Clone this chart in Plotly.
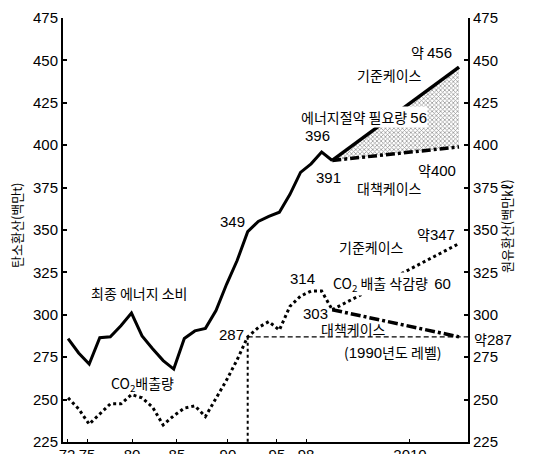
import plotly.graph_objects as go

# ---------------- data ----------------
years_actual = list(range(1973, 1999))
energy_actual = [286, 277.5, 271, 286.5, 287, 293.5, 301, 287.5, 280, 273, 268,
                 286, 290.5, 292, 302.5, 318, 332, 349, 355, 358, 360.5, 371,
                 384, 389, 396, 391]
co2_actual = [251, 244.5, 235.5, 241.5, 247.5, 247.5, 253, 251, 245.5, 235, 240.5,
              245, 246.3, 240, 251, 261.5, 273.5, 287, 292.5, 296, 291, 305,
              311, 314, 314, 303]

proj_years = [1998, 2010]
energy_base = [391, 446]      # 기준케이스 (약456)
energy_target = [391, 399]    # 대책케이스 (약400)
co2_base = [303, 342]         # 기준케이스 (약347)
co2_target = [303, 287]       # 대책케이스 (약287)
level_1990_year = 1990
level_1990_value = 287

# tick labels as printed on the reference's time axis, and where they sit
x_tick_text = ["72", "75", "80", "85", "90", "95", "98", "2010"]
x_tick_pos = [1972.9, 1974.8, 1979.05, 1983.3, 1988.13, 1992.77, 1995.52, 2005.36]
y_ticks = [225, 250, 275, 300, 325, 350, 375, 400, 425, 450, 475]

X_RANGE = [1972.52, 2010.85]
Y_RANGE = [225, 475]

NUM_FONT = "Liberation Sans"
NUM_SIZE = 15
KR_FONT = "Noto Sans CJK KR"

fig = go.Figure()

# energy (right axis, 원유환산)
fig.add_trace(go.Scatter(x=years_actual, y=energy_actual, mode="lines", yaxis="y2",
                         line=dict(color="black", width=3), showlegend=False))
fig.add_trace(go.Scatter(x=proj_years, y=energy_target, mode="lines", yaxis="y2",
                         line=dict(color="black", width=3.5, dash="9px,3px,3px,3px"),
                         showlegend=False))
fig.add_trace(go.Scatter(x=proj_years, y=energy_base, mode="lines", yaxis="y2",
                         line=dict(color="black", width=3.5), fill="tonexty",
                         fillcolor="rgba(0,0,0,0)",
                         fillpattern=dict(shape="x", size=3, solidity=0.45,
                                          fgcolor="#333333", bgcolor="white"),
                         showlegend=False))

# CO2 (left axis, 탄소환산)
fig.add_trace(go.Scatter(x=years_actual, y=co2_actual, mode="lines",
                         line=dict(color="black", width=3, dash="3px,3px"),
                         showlegend=False))
fig.add_trace(go.Scatter(x=proj_years, y=co2_base, mode="lines",
                         line=dict(color="black", width=3, dash="3px,3px"),
                         showlegend=False))
fig.add_trace(go.Scatter(x=proj_years, y=co2_target, mode="lines",
                         line=dict(color="black", width=3.5, dash="10px,3px,3px,3px"),
                         showlegend=False))
# 1990 level guides
fig.add_trace(go.Scatter(x=[level_1990_year, level_1990_year],
                         y=[level_1990_value, Y_RANGE[0]], mode="lines",
                         line=dict(color="black", width=2, dash="3px,3px"),
                         showlegend=False))
fig.add_trace(go.Scatter(x=[level_1990_year, X_RANGE[1]],
                         y=[level_1990_value, level_1990_value], mode="lines",
                         line=dict(color="black", width=1.2, dash="5px,3px"),
                         showlegend=False))


def kr(text, x, y, **kw):
    d = dict(text=text, x=x, y=y, xref="x", yref="y", showarrow=False,
             font=dict(family=KR_FONT, size=14, color="black"))
    d.update(kw)
    fig.add_annotation(**d)


def num(text, x, y, **kw):
    d = dict(text=text, x=x, y=y, xref="x", yref="y", showarrow=False,
             font=dict(family=NUM_FONT, size=NUM_SIZE, color="black"))
    d.update(kw)
    fig.add_annotation(**d)


def big(t):
    return ('<span style="font-family:' + NUM_FONT + ';font-size:' + str(NUM_SIZE)
            + 'px">' + t + '</span>')


kr("최종 에너지 소비", 1979.71, 313.0)
kr("CO<sub>2</sub>배출량", 1980.09, 259.3)
num("349", 1988.6, 355.0)
num("396", 1996.56, 405.9)
num("391", 1997.69, 381.0)
kr("에너지절약 필요량 " + big("56"), 2001.0, 416.5, bgcolor="white", borderpad=0)
kr("기준케이스", 2003.46, 441.3)
kr("약 " + big("456"), 2007.43, 454.9)
kr("약" + big("400"), 2007.91, 385.2)
kr("대책케이스", 2003.46, 374.5)
kr("약" + big("347"), 2007.82, 347.9)
kr("기준케이스", 2001.76, 339.7)
kr("CO<sub>2</sub> 배출 삭감량  " + big("60"), 2003.65, 318.0, bgcolor="white", borderpad=0)
num("314", 1995.14, 321.3)
num("303", 1996.46, 300.6)
kr("대책케이스", 2000.05, 291.8)
kr("(" + big("1990") + "년도 레벨)", 2003.74, 278.2)
num("287", 1988.42, 288.2)
fig.add_annotation(text="약" + big("287"), x=1, y=285.9, xref="paper", yref="y",
                   xanchor="left", xshift=4, showarrow=False,
                   font=dict(family=KR_FONT, size=14, color="black"))

# axis titles
fig.add_annotation(text="탄소환산(백만t)", x=-0.115, y=0.5106, xref="paper", yref="paper",
                   xanchor="center", yanchor="middle", textangle=-90, showarrow=False,
                   font=dict(family=KR_FONT, size=13, color="black"))
fig.add_annotation(text="원유환산(백만㎘)", x=1.095, y=0.5106, xref="paper", yref="paper",
                   xanchor="center", yanchor="middle", textangle=-90, showarrow=False,
                   font=dict(family=KR_FONT, size=13, color="black"))

axis_common = dict(showgrid=False, zeroline=False, showline=True, linecolor="black",
                   linewidth=2, ticks="inside", tickcolor="black",
                   tickfont=dict(family=NUM_FONT, size=NUM_SIZE, color="black"))

# the page body adds an 8px offset; margins compensate so the plot area
# sits at x 63..468, y 18..442 in the window
fig.update_layout(
    width=533, height=454,
    margin=dict(l=55, r=73, t=10, b=20, autoexpand=False),
    paper_bgcolor="white", plot_bgcolor="white",
    xaxis=dict(range=X_RANGE, tickvals=x_tick_pos, ticktext=x_tick_text,
               ticklen=3, tickwidth=1, ticklabelstandoff=-2, **axis_common),
    yaxis=dict(range=Y_RANGE, tickvals=y_ticks, ticklen=4, tickwidth=1.5, **axis_common),
    yaxis2=dict(range=Y_RANGE, tickvals=y_ticks, overlaying="y", side="right",
                ticklen=4, tickwidth=1.5, **axis_common),
)

fig.write_html("out.html")
